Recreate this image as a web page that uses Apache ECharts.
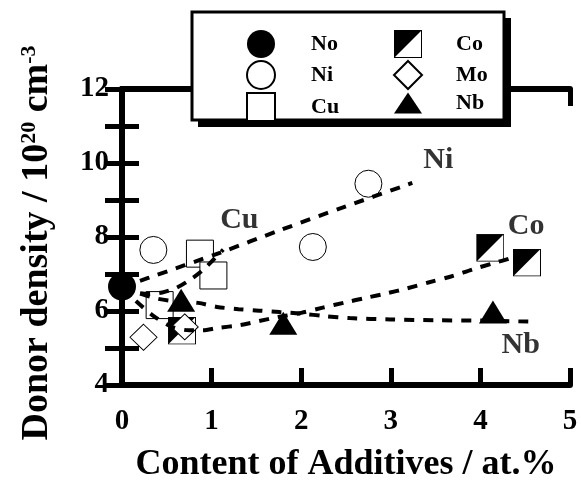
<!DOCTYPE html>
<html><head><meta charset="utf-8">
<script src="https://cdn.jsdelivr.net/npm/echarts@6/dist/echarts.min.js"></script>
<style>html,body{margin:0;padding:0;background:#fff}#c{width:581px;height:488px}</style>
</head><body><div id="c"></div>
<script>
// ---- data ----
const xTickLabels = ['0','1','2','3','4','5'];
const yTickLabels = ['4','6','8','10','12'];

const noX = [0],                 noY = [6.66];
const niX = [0.35, 2.13, 2.75],  niY = [7.65, 7.73, 9.44];
const cuX = [0.42, 0.87, 1.02],  cuY = [6.16, 7.55, 6.96];
const coX = [0.67, 4.11, 4.52],  coY = [5.47, 7.71, 7.31];
const moX = [0.24, 0.70],        moY = [5.29, 5.57];
const nbX = [0.66, 1.80, 4.14],  nbY = [6.29, 5.67, 5.97];

const niFitX = [0, 0.3, 1.1, 1.76, 2.5, 3.24];
const niFitY = [6.65, 6.9, 7.58, 8.18, 8.83, 9.46];
const cuFitX = [0, 0.15, 0.3, 0.45, 0.6, 0.75, 0.9, 1.13];
const cuFitY = [6.62, 6.5, 6.46, 6.5, 6.62, 6.83, 7.1, 7.66];
const coFitX = [0, 0.15, 0.35, 0.55, 0.75, 0.9, 1.06, 1.32, 1.53, 1.73, 2.0, 2.24, 2.49, 2.73, 2.96, 3.18, 3.42, 3.68, 3.92, 4.16, 4.34];
const coFitY = [6.62, 6.28, 5.87, 5.58, 5.48, 5.48, 5.54, 5.62, 5.73, 5.83, 5.95, 6.09, 6.23, 6.36, 6.48, 6.61, 6.77, 6.94, 7.13, 7.3, 7.43];
const nbFitX = [0, 0.2, 0.4, 0.6, 0.85, 1.06, 1.3, 1.53, 1.76, 2.0, 2.27, 2.54, 3.0, 3.5, 4.0, 4.6];
const nbFitY = [6.62, 6.47, 6.33, 6.26, 6.22, 6.11, 6.05, 6.01, 5.97, 5.93, 5.86, 5.81, 5.77, 5.75, 5.74, 5.71];

const annotNames = ['Ni', 'Cu', 'Co', 'Nb'];
const annotX = [3.53, 1.31, 4.51, 4.45];
const annotY = [10.08, 8.45, 8.29, 5.07];

// ---- chart ----
const FONT = "'Liberation Serif','Times New Roman',serif";
const zip = (xs, ys) => xs.map((x, i) => [x, ys[i]]);

const coSvg = "<svg xmlns='http://www.w3.org/2000/svg' width='28' height='28' viewBox='0 0 28 28'>" +
  "<rect x='0.5' y='0.5' width='27' height='27' fill='white' stroke='black' stroke-width='1'/>" +
  "<path d='M0.5,0.5 L27.5,0.5 L0.5,27.5 Z' fill='black'/></svg>";
const coSymbol = 'image://data:image/svg+xml;charset=utf-8,' + encodeURIComponent(coSvg);

const openStyle = {color: '#fff', borderColor: '#000', borderWidth: 1, opacity: 1};
const fillStyle = {color: '#000', borderColor: '#000', borderWidth: 0, opacity: 1};

function markerSeries(name, xs, ys, symbol, size, style) {
  return {
    name, type: 'scatter', data: zip(xs, ys), symbol, symbolSize: size,
    itemStyle: style, z: 2, clip: false, silent: true
  };
}
function fitSeries(xs, ys) {
  return {
    type: 'line', data: zip(xs, ys), showSymbol: false, symbol: 'none', smooth: 0.3,
    lineStyle: {color: '#000', width: 4, type: [10, 9]}, z: 3, silent: true
  };
}

const axisLineStyle = {color: '#000', width: 6};
const tickStyle = {color: '#000', width: 5};

const option = {
  animation: false,
  backgroundColor: '#fff',
  grid: {left: 122, right: 11, top: 89, bottom: 99, containLabel: false},
  xAxis: [
    {type: 'value', min: 0, max: 5, interval: 1, position: 'bottom',
     axisLine: {show: true, lineStyle: axisLineStyle},
     axisTick: {show: true, inside: true, length: 17, lineStyle: tickStyle},
     splitLine: {show: false},
     axisLabel: {margin: 22, color: '#000', fontSize: 29, fontWeight: 'bold', fontFamily: FONT,
                 formatter: v => xTickLabels[Math.round(v)]},
     name: 'Content of Additives / at.%', nameLocation: 'middle', nameGap: 62,
     nameTextStyle: {color: '#000', fontSize: 36, fontWeight: 'bold', fontFamily: FONT}},
    {type: 'value', min: 0, max: 5, interval: 1, position: 'top',
     axisLine: {show: true, lineStyle: axisLineStyle},
     axisTick: {show: true, inside: true, length: 17, lineStyle: tickStyle},
     splitLine: {show: false}, axisLabel: {show: false}}
  ],
  yAxis: [
    {type: 'value', min: 4, max: 12, interval: 1, position: 'left',
     axisLine: {show: true, lineStyle: axisLineStyle},
     axisTick: {show: true, inside: true, length: 17, lineStyle: tickStyle},
     splitLine: {show: false},
     axisLabel: {margin: 13, color: '#000', fontSize: 29, fontWeight: 'bold', fontFamily: FONT,
                 formatter: v => (v % 2 === 0 ? yTickLabels[(v - 4) / 2] : '')},
     name: '{a|Donor density / 10}{s|20}{a| cm}{s|-3}', nameLocation: 'middle', nameGap: 66, nameRotate: 90,
     nameTextStyle: {color: '#000', fontSize: 36, fontWeight: 'bold', fontFamily: FONT, padding: [0, 12, 0, 0],
       rich: {
         a: {fontSize: 38, fontWeight: 'bold', fontFamily: FONT, color: '#000'},
         s: {fontSize: 22, fontWeight: 'bold', fontFamily: FONT, color: '#000', verticalAlign: 'top', padding: [0, 0, 14, 0]}
       }}},
    {type: 'value', min: 4, max: 12, interval: 1, position: 'right',
     axisLine: {show: true, lineStyle: axisLineStyle},
     axisTick: {show: true, inside: true, length: 17, lineStyle: tickStyle},
     splitLine: {show: false}, axisLabel: {show: false}}
  ],
  legend: [
    {data: ['No', 'Ni', 'Cu'], orient: 'vertical', left: 241, top: 25, itemWidth: 28, itemHeight: 28, itemGap: 2,
     z: 60, selectedMode: false, formatter: '{t|{name}}',
     textStyle: {rich: {t: {padding: [0, 0, 0, 31], fontSize: 22, fontWeight: 'bold', fontFamily: FONT, color: '#000'}}}},
    {data: ['Co', 'Mo', {name: 'Nb', icon: 'path://M0,22 L14.5,0 L29,22 Z'}], orient: 'vertical', left: 388, top: 25,
     itemWidth: 28, itemHeight: 28, itemGap: 2,
     z: 60, selectedMode: false, formatter: '{t|{name}}',
     textStyle: {rich: {t: {padding: [0, 0, 0, 29], fontSize: 22, fontWeight: 'bold', fontFamily: FONT, color: '#000'}}}}
  ],
  graphic: [
    {type: 'rect', z: 50, shape: {x: 198, y: 18, width: 313, height: 109}, style: {fill: '#000'}},
    {type: 'rect', z: 51, shape: {x: 192, y: 12, width: 312, height: 108}, style: {fill: '#fff', stroke: '#000', lineWidth: 3}}
  ],
  series: [
    markerSeries('No', noX, noY, 'circle', 28, fillStyle),
    markerSeries('Ni', niX, niY, 'circle', 27, openStyle),
    markerSeries('Cu', cuX, cuY, 'rect', 27, openStyle),
    markerSeries('Co', coX, coY, coSymbol, 28, {opacity: 1}),
    markerSeries('Mo', moX, moY, 'diamond', [27, 26], openStyle),
    markerSeries('Nb', nbX, nbY, 'triangle', [28, 23], fillStyle),
    fitSeries(niFitX, niFitY),
    fitSeries(cuFitX, cuFitY),
    fitSeries(coFitX, coFitY),
    fitSeries(nbFitX, nbFitY),
    {type: 'scatter', silent: true, symbolSize: 0.1, itemStyle: {color: 'rgba(0,0,0,0)'}, z: 4,
     data: annotNames.map((n, i) => ({name: n, value: [annotX[i], annotY[i]]})),
     label: {show: true, position: 'inside', formatter: p => p.name, color: '#000',
             fontSize: 30, fontWeight: 'bold', fontFamily: FONT}}
  ]
};

const chart = echarts.init(document.getElementById('c'), null, {renderer: 'canvas'});
chart.setOption(option);
</script>
</body></html>
